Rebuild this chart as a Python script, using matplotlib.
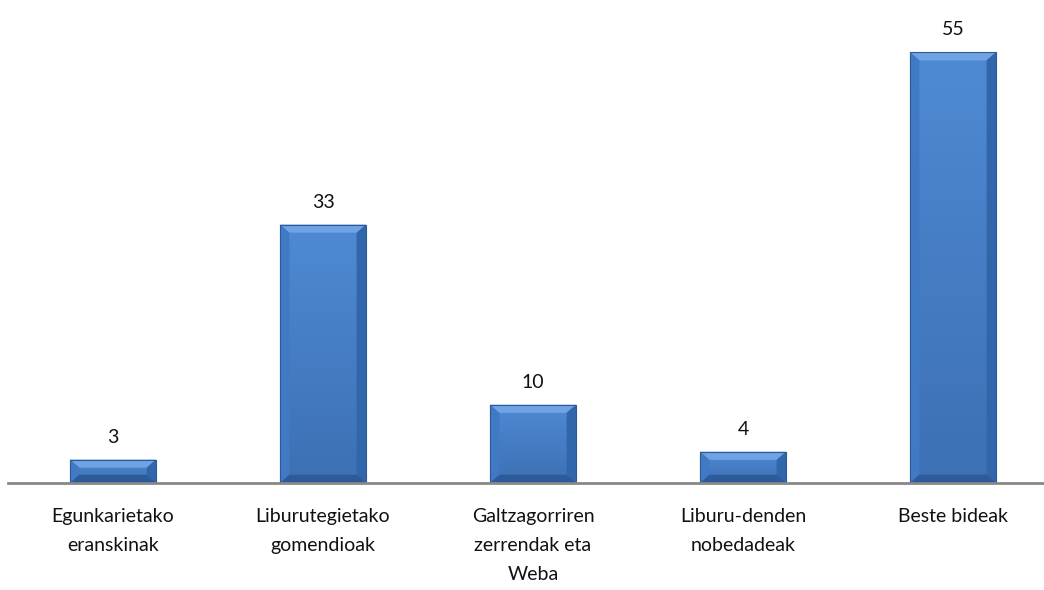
import numpy as np
import matplotlib
matplotlib.use('Agg')
import matplotlib.pyplot as plt
from matplotlib.patches import Polygon

categories = ['Egunkarietako\neranskinak', 'Liburutegietako\ngomendioak',
              'Galtzagorriren\nzerrendak eta\nWeba', 'Liburu-denden\nnobedadeak',
              'Beste bideak']
values = [3, 33, 10, 4, 55]

plt.rcParams['font.family'] = ['Lato', 'DejaVu Sans']

fig = plt.figure(figsize=(10.44, 5.9), dpi=100)
ax = fig.add_axes([8 / 1044, (590 - 483) / 590, 1050 / 1044, 470 / 590])

x = np.arange(len(values))
bars = ax.bar(x, values, width=0.41, color='#4a84cc', zorder=2)
ax.set_xlim(-0.5, len(values) - 0.5)
ax.set_ylim(0, 60)

# bevel look on every bar
grad = np.linspace(1, 0, 100).reshape(-1, 1)
cmap = matplotlib.colors.LinearSegmentedColormap.from_list('b', ['#3d70b4', '#4e8ad4'])
for b in bars:
    x0, w, h = b.get_x(), b.get_width(), b.get_height()
    x1 = x0 + w
    im = ax.imshow(grad, extent=(x0, x1, 0, h), aspect='auto', cmap=cmap, zorder=3)
    im.set_clip_path(b)
    bx = 0.045
    by = min(1.05, h / 2.2)
    top = [(x0, h), (x1, h), (x1 - bx, h - by), (x0 + bx, h - by)]
    bot = [(x0, 0), (x1, 0), (x1 - bx, by), (x0 + bx, by)]
    left = [(x0, 0), (x0, h), (x0 + bx, h - by), (x0 + bx, by)]
    right = [(x1, 0), (x1, h), (x1 - bx, h - by), (x1 - bx, by)]
    ax.add_patch(Polygon(top, closed=True, color='#6fa3e2', lw=0, zorder=4))
    ax.add_patch(Polygon(left, closed=True, color='#417ac4', lw=0, zorder=4))
    ax.add_patch(Polygon(right, closed=True, color='#3166aa', lw=0, zorder=4))
    ax.add_patch(Polygon(bot, closed=True, color='#2d5a98', lw=0, zorder=4))
    ax.add_patch(plt.Rectangle((x0, 0), w, h, fill=False, ec='#2a5a9a', lw=0.8, zorder=5))
    ax.annotate(str(int(h)), (x0 + w / 2, h), xytext=(0, 10), textcoords='offset points',
                ha='center', va='bottom', fontsize=14, color='#111111')

ax.set_xticks(x)
ax.set_xticklabels(categories, fontsize=14, color='#111111', linespacing=1.85)
ax.tick_params(axis='x', length=0, pad=18)
ax.set_yticks([])
for s in ['top', 'left', 'right']:
    ax.spines[s].set_visible(False)
ax.spines['bottom'].set_color('#888888')
ax.spines['bottom'].set_linewidth(2)
ax.spines['bottom'].set_zorder(6)

fig.savefig('out.png', dpi=100)
